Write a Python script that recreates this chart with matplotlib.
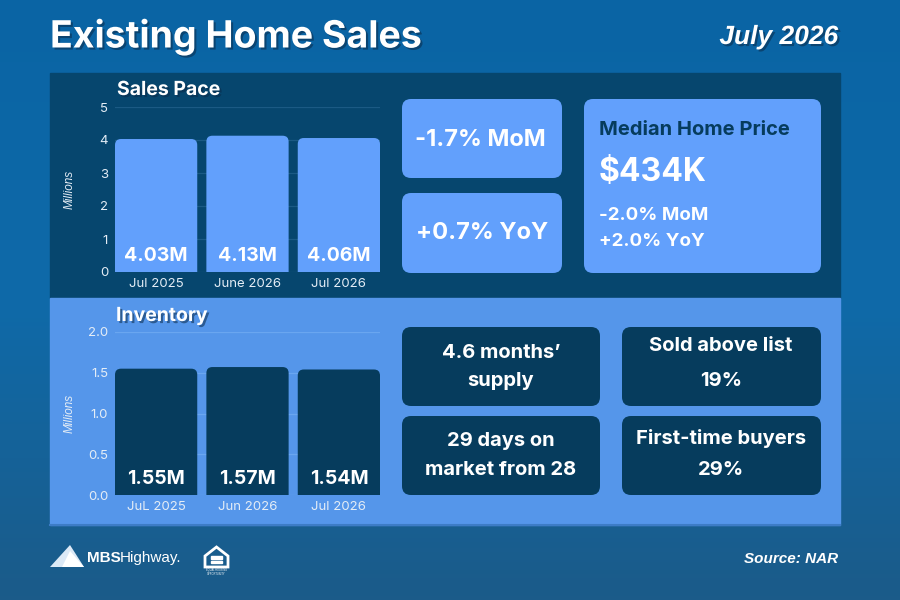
import numpy as np
import matplotlib
matplotlib.use("Agg")
import matplotlib.pyplot as plt
import matplotlib.patheffects as pe
from matplotlib.colors import LinearSegmentedColormap
from matplotlib.patches import FancyBboxPatch, Rectangle, Polygon

plt.rcParams['font.family'] = ['Inter', 'DejaVu Sans']

# ---- data ----
sales_labels = ["Jul 2025", "June 2026", "Jul 2026"]
sales_values = [4.03, 4.13, 4.06]
inv_labels = ["JuL 2025", "Jun 2026", "Jul 2026"]
inv_values = [1.55, 1.57, 1.54]

sales_mom = "-1.7% MoM"
sales_yoy = "+0.7% YoY"
price_title = "Median Home Price"
price_value = "$434K"
price_changes = ["-2.0% MoM", "+2.0% YoY"]
supply_lines = ["4.6 months\u2019", "supply"]
days_lines = ["29 days on", "market from 28"]
above_lines = ["Sold above list", "19%"]
first_lines = ["First-time buyers", "29%"]

# ---- colours ----
DARK = "#06466e"
DARK_CARD = "#063c5d"
LIGHT = "#5596ea"
LIGHT_BAR = "#62a0fc"
WHITE = "white"
TICK = "#e4edf6"

W, H = 900, 600
fig = plt.figure(figsize=(9, 6), dpi=100)

bg = fig.add_axes([0, 0, 1, 1])
bg.set_xlim(0, W)
bg.set_ylim(H, 0)
bg.axis("off")

grad = np.linspace(0, 1, 300).reshape(-1, 1)
cmap = LinearSegmentedColormap.from_list("bg", ["#0a64a4", "#0f6aa9", "#1b5b89"])
bg.imshow(grad, extent=(0, W, H, 0), aspect="auto", cmap=cmap, zorder=0)

shadow = [pe.withSimplePatchShadow(offset=(1.5, -1.5), shadow_rgbFace="#0a2a48", alpha=0.55)]

bg.text(50, 37, "Existing Home Sales", fontsize=27, fontweight="bold", color=WHITE,
        va="center", ha="left", path_effects=shadow)
bg.text(838, 37, "July 2026", fontsize=19, fontweight="bold", style="italic",
        family=["Liberation Sans"], color=WHITE, va="center", ha="right", path_effects=shadow)

# panels
bg.add_patch(Rectangle((50, 73), 790, 225, color=DARK, zorder=1))
bg.add_patch(Rectangle((50, 298), 790, 227, color=LIGHT, zorder=1))
bg.plot([50, 840], [525, 525], color="#3d7cc6", lw=1.5, zorder=2)

bg.text(117, 90, "Sales Pace", fontsize=14, fontweight="bold", color=WHITE,
        va="center", ha="left", path_effects=shadow, zorder=3)
bg.text(116, 316, "Inventory", fontsize=14, fontweight="bold", color=WHITE,
        va="center", ha="left", path_effects=shadow, zorder=3)


def card(x0, y0, x1, y1, color):
    bg.add_patch(FancyBboxPatch((x0, y0), x1 - x0, y1 - y0,
                                boxstyle="round,pad=0,rounding_size=9",
                                color=color, lw=0, zorder=3))


# top cards
card(402, 99, 562, 178, LIGHT_BAR)
card(402, 193, 562, 273, LIGHT_BAR)
card(584, 99, 821, 273, LIGHT_BAR)
bg.text(480, 140, sales_mom, fontsize=17, fontweight="bold", color=WHITE, ha="center", va="center", zorder=4)
bg.text(482, 233, sales_yoy, fontsize=17, fontweight="bold", color=WHITE, ha="center", va="center", zorder=4)
bg.text(599, 130, price_title, fontsize=14.5, fontweight="bold", color=DARK_CARD, ha="left", va="center", zorder=4)
bg.text(599, 173, price_value, fontsize=23, fontweight="bold", color=WHITE, ha="left", va="center", zorder=4)
bg.text(599, 215, price_changes[0], fontsize=13.5, fontweight="bold", color=WHITE, ha="left", va="center", zorder=4)
bg.text(599, 242, price_changes[1], fontsize=13.5, fontweight="bold", color=WHITE, ha="left", va="center", zorder=4)

# bottom cards
card(402, 327, 600, 406, DARK_CARD)
card(402, 416, 600, 495, DARK_CARD)
card(622, 327, 821, 406, DARK_CARD)
card(622, 416, 821, 495, DARK_CARD)
for lines, cx, ys in [(supply_lines, 501, (353, 381)), (days_lines, 501, (441, 470)),
                      (above_lines, 721, (346, 381)), (first_lines, 721, (438, 470))]:
    for txt, yy in zip(lines, ys):
        bg.text(cx, yy, txt, fontsize=14.5, fontweight="bold", color=WHITE,
                ha="center", va="center", zorder=4)


def px_axes(x0, y0, x1, y1):
    return fig.add_axes([x0 / W, 1 - y1 / H, (x1 - x0) / W, (y1 - y0) / H])


def bar_panel(ax, labels, values, ymax, yticks, fmt, bar_color, grid_color, label_color):
    x = np.arange(len(values))
    rects = ax.bar(x, values, width=0.9, color=bar_color)
    ax.set_xlim(-0.45, len(values) - 0.55)
    ax.set_ylim(0, ymax)
    p0 = ax.transData.transform((0, 0))
    p1 = ax.transData.transform((1, 1))
    px_x, px_y = p1[0] - p0[0], p1[1] - p0[1]
    r = 6 / px_x
    for rect, v in zip(rects, values):
        rect.set_visible(False)
        ax.add_patch(FancyBboxPatch((rect.get_x(), -0.5 * ymax), rect.get_width(),
                                    rect.get_height() + 0.5 * ymax,
                                    boxstyle=f"round,pad=0,rounding_size={r}",
                                    mutation_aspect=px_x / px_y,
                                    color=bar_color, lw=0, zorder=2))
        ax.annotate(f"{v:.2f}M", xy=(rect.get_x() + rect.get_width() / 2, 0),
                    xytext=(0, 11.5), textcoords="offset points", ha="center", va="center",
                    fontsize=14, fontweight="bold", color=label_color, zorder=3)
    ax.set_xticks(x)
    ax.set_xticklabels(labels)
    ax.set_yticks(yticks)
    ax.set_yticklabels([fmt.format(t) for t in yticks])
    ax.tick_params(length=0, labelsize=9.5, labelcolor=TICK)
    ax.tick_params(axis="y", pad=5)
    ax.tick_params(axis="x", pad=4.5)
    ax.yaxis.grid(True, color=grid_color, lw=0.9)
    ax.set_axisbelow(True)
    ax.patch.set_visible(False)
    for s in ax.spines.values():
        s.set_visible(False)
    ax.set_ylabel("Millions", style="italic", fontsize=8.5, color=TICK,
                  family=["Liberation Sans"])
    ax.yaxis.set_label_coords(-0.15, 0.5)


ax1 = px_axes(115, 107, 380, 272)
bar_panel(ax1, sales_labels, sales_values, 5, [0, 1, 2, 3, 4, 5], "{:g}",
          LIGHT_BAR, "#1b5a84", WHITE)

ax2 = px_axes(115, 332, 380, 495)
bar_panel(ax2, inv_labels, inv_values, 2, [0, 0.5, 1.0, 1.5, 2.0], "{:.1f}",
          DARK_CARD, "#6aa6f0", WHITE)

# footer: logo
bg.add_patch(Polygon([(50, 567), (70, 545), (84, 567)], closed=True, color="#dce9f6", lw=0, zorder=3))
bg.add_patch(Polygon([(62, 567), (70, 551), (84, 567)], closed=True, color=WHITE, lw=0, zorder=3))
bg.text(87, 558, "MBS", fontsize=11, fontweight="bold", color=WHITE, family=["Liberation Sans"],
        ha="left", va="center", zorder=4)
bg.text(120, 558, "Highway.", fontsize=11, color=WHITE, family=["Liberation Sans"],
        ha="left", va="center", zorder=4)
bg.add_patch(Polygon([(205, 556), (216.5, 547), (228, 556), (228, 567), (205, 567)],
                     closed=True, fill=False, edgecolor=WHITE, lw=2, zorder=3))
bg.add_patch(Rectangle((211, 556), 11, 2.6, color=WHITE, zorder=3))
bg.add_patch(Rectangle((211, 560.5), 11, 2.6, color=WHITE, zorder=3))
bg.text(216.5, 572, "EQUAL HOUSING\nOPPORTUNITY", fontsize=1.8, color=WHITE,
        ha="center", va="center", family=["Liberation Sans"], zorder=4)

bg.text(838, 559, "Source: NAR", fontsize=11, fontweight="bold", style="italic",
        family=["Liberation Sans"], color=WHITE, ha="right", va="center", zorder=4)

fig.savefig("out.png", dpi=100)
